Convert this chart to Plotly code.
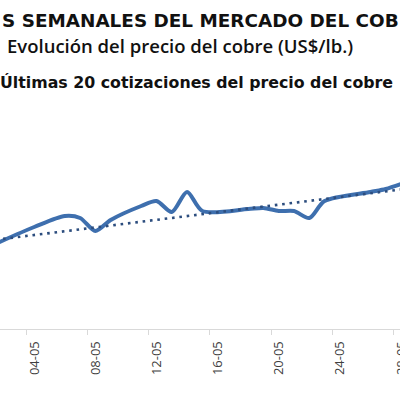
import plotly.graph_objects as go
import pandas as pd

# Copper price (US$/lb) - last quotations
dates = ["2020-05-01", "2020-05-04", "2020-05-06", "2020-05-07", "2020-05-08",
         "2020-05-09", "2020-05-11", "2020-05-12", "2020-05-13", "2020-05-14",
         "2020-05-15", "2020-05-18", "2020-05-19", "2020-05-20", "2020-05-21",
         "2020-05-22", "2020-05-23", "2020-05-26", "2020-05-27", "2020-05-28"]
prices = [2.326, 2.366, 2.388, 2.384, 2.358,
          2.380, 2.408, 2.418, 2.396, 2.436,
          2.398, 2.402, 2.404, 2.398, 2.398,
          2.384, 2.418, 2.436, 2.442, 2.452]

# Linear trend line (at first / last date)
trend_dates = ["2020-05-01", "2020-05-28"]
trend_values = [2.3386, 2.441]

tick_dates = ["2020-05-04", "2020-05-08", "2020-05-12", "2020-05-16",
              "2020-05-20", "2020-05-24", "2020-05-28"]
tick_labels = ["04-05", "08-05", "12-05", "16-05", "20-05", "24-05", "28-05"]

title1 = "S SEMANALES DEL MERCADO DEL COB"
title2 = "Evolución del precio del cobre (US$/lb.)"
title3 = "Últimas 20 cotizaciones del precio del cobre"

# tick marks sit on the day-slot boundaries (half a day before each labelled date)
tick_bounds = pd.to_datetime(tick_dates) - pd.Timedelta(hours=12)

fig = go.Figure()
fig.add_trace(go.Scatter(
    x=pd.to_datetime(dates), y=prices, mode="lines",
    line=dict(color="#3e6fae", width=4, shape="spline", smoothing=0.8),
    hoverinfo="skip", showlegend=False))
fig.add_trace(go.Scatter(
    x=pd.to_datetime(trend_dates), y=trend_values, mode="lines",
    line=dict(color="#2c4d7e", width=2.6, dash="2.6px,4.8px"),
    hoverinfo="skip", showlegend=False))

fig.update_layout(
    width=400, height=395,
    margin=dict(l=0, r=0, t=100, b=66, autoexpand=False),
    paper_bgcolor="white", plot_bgcolor="white",
    showlegend=False,
    xaxis=dict(
        type="date",
        range=[pd.Timestamp("2020-05-01 18:12"), pd.Timestamp("2020-05-27 22:28")],
        tickmode="array", tickvals=tick_bounds, ticktext=tick_labels,
        tickangle=-90, ticks="outside", ticklen=5, tickcolor="#d9d9d9", tickwidth=1,
        ticklabelshift=8, ticklabeloverflow="allow",
        showgrid=False, zeroline=False,
        showline=True, linecolor="#d9d9d9", linewidth=1,
        tickfont=dict(family="Open Sans", size=13, color="#404040"),
        ticklabelstandoff=1,
        automargin=False,
    ),
    yaxis=dict(visible=False, range=[2.162, 2.62], fixedrange=True),
    annotations=[
        dict(text="<b>" + title1 + "</b>", xref="paper", yref="paper",
             x=0.0, y=(329 - 20) / 229, xanchor="left", yanchor="middle",
             showarrow=False, font=dict(family="DejaVu Sans", size=18.4, color="#111111")),
        dict(text=title2, xref="paper", yref="paper",
             x=5 / 400, y=(329 - 45) / 229, xanchor="left", yanchor="middle",
             showarrow=False, font=dict(family="Open Sans", size=18.5, color="#111111", weight=600)),
        dict(text="<b>" + title3 + "</b>", xref="paper", yref="paper",
             x=-2 / 400, y=(329 - 83) / 229, xanchor="left", yanchor="middle",
             showarrow=False, font=dict(family="DejaVu Sans", size=15.8, color="#111111")),
    ],
)

fig.write_html("out.html", config={"displayModeBar": False},
               post_script="document.body.style.margin='0';")
